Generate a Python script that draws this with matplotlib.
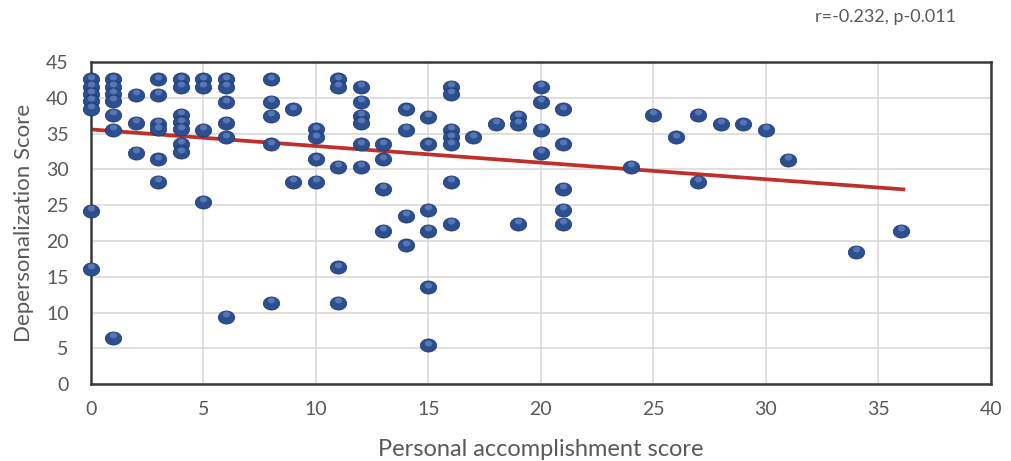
import numpy as np
import matplotlib
matplotlib.use("Agg")
import matplotlib.pyplot as plt
from matplotlib.path import Path
import matplotlib.transforms as mtransforms

plt.rcParams['font.family'] = ['Lato', 'DejaVu Sans']

# Personal accomplishment score (x) and Depersonalization score (y)
pa_score = [
    0, 0, 0, 0, 0, 0, 0,
    1, 1, 1, 1, 1, 1, 1,
    2, 2, 2,
    3, 3, 3, 3, 3, 3,
    4, 4, 4, 4, 4, 4, 4,
    5, 5, 5, 5,
    6, 6, 6, 6, 6, 6,
    8, 8, 8, 8, 8,
    9, 9,
    10, 10, 10, 10,
    11, 11, 11, 11, 11,
    12, 12, 12, 12, 12, 12,
    13, 13, 13, 13,
    14, 14, 14, 14,
    15, 15, 15, 15, 15, 15,
    16, 16, 16, 16, 16, 16, 16,
    17, 18,
    19, 19, 19,
    20, 20, 20, 20,
    21, 21, 21, 21, 21,
    24, 25, 26, 27, 27, 28, 29, 30, 31, 34, 36,
]
dp_score = [
    42.6, 41.6, 40.6, 39.6, 38.5, 24.2, 16.1,
    42.6, 41.6, 40.6, 39.6, 37.6, 35.5, 6.4,
    40.4, 36.5, 32.3,
    42.6, 40.4, 36.4, 35.6, 31.4, 28.3,
    42.6, 41.6, 37.6, 36.6, 35.6, 33.6, 32.4,
    42.6, 41.6, 35.5, 25.5,
    42.6, 41.6, 39.4, 36.5, 34.5, 9.4,
    42.6, 39.5, 37.5, 33.5, 11.3,
    38.4, 28.3,
    35.6, 34.5, 31.4, 28.3,
    42.6, 41.6, 30.4, 16.3, 11.3,
    41.6, 39.5, 37.5, 36.5, 33.5, 30.4,
    33.5, 31.4, 27.3, 21.4,
    38.4, 35.5, 23.5, 19.4,
    37.4, 33.5, 24.3, 21.4, 13.5, 5.4,
    41.6, 40.6, 35.5, 34.5, 33.5, 28.3, 22.4,
    34.5, 36.4,
    37.4, 36.4, 22.4,
    41.5, 39.5, 35.5, 32.3,
    38.4, 33.5, 27.3, 24.3, 22.4,
    30.4, 37.6, 34.5, 37.6, 28.3, 36.4, 36.3, 35.5, 31.3, 18.5, 21.4,
]

# trend line (start/end)
trend_x = [0, 36.2]
trend_y = [35.6, 27.2]

x_ticks = [0, 5, 10, 15, 20, 25, 30, 35, 40]
y_ticks = [0, 5, 10, 15, 20, 25, 30, 35, 40, 45]
stat_text = "r=-0.232, p-0.011"

fig = plt.figure(figsize=(10.11, 4.61), dpi=100)
ax = fig.add_axes([0.090, 0.167, 0.890, 0.698])

# elliptical marker
circ = Path.unit_circle()
ell = Path(circ.vertices * np.array([1.0, 0.8]), circ.codes)

ax.plot(trend_x, trend_y, color='#c0302a', lw=2.7, zorder=2, solid_capstyle='butt')
ax.scatter(pa_score, dp_score, marker=ell, s=140, c='#2c4f91',
           edgecolors='#1c3566', linewidths=0.5, zorder=3, clip_on=False)
# sphere-like highlight
hl = ax.transData + mtransforms.ScaledTranslation(0, 2.0 / 72, fig.dpi_scale_trans)
ax.scatter(pa_score, dp_score, marker=ell, s=28, c='#7b97cf', alpha=0.55,
           linewidths=0, zorder=4, clip_on=False, transform=hl)

ax.set_xlim(0, 40)
ax.set_ylim(0, 45)
ax.set_xticks(x_ticks)
ax.set_yticks(y_ticks)
ax.grid(True, color='#d9d9d9', lw=1.2)
ax.set_axisbelow(True)
for s in ax.spines.values():
    s.set_color('#3a3a3a')
    s.set_linewidth(1.8)
ax.tick_params(length=0, labelsize=14, colors='#595959')
ax.tick_params(axis='y', pad=16)
ax.tick_params(axis='x', pad=12)
ax.set_xlabel('Personal accomplishment score', fontsize=17, color='#595959', labelpad=15)
ax.set_ylabel('Depersonalization Score', fontsize=16, color='#595959', labelpad=9)

fig.text(0.876, 0.963, stat_text, fontsize=13, color='#595959', ha='center', va='center')

fig.savefig('out.png', dpi=100)
